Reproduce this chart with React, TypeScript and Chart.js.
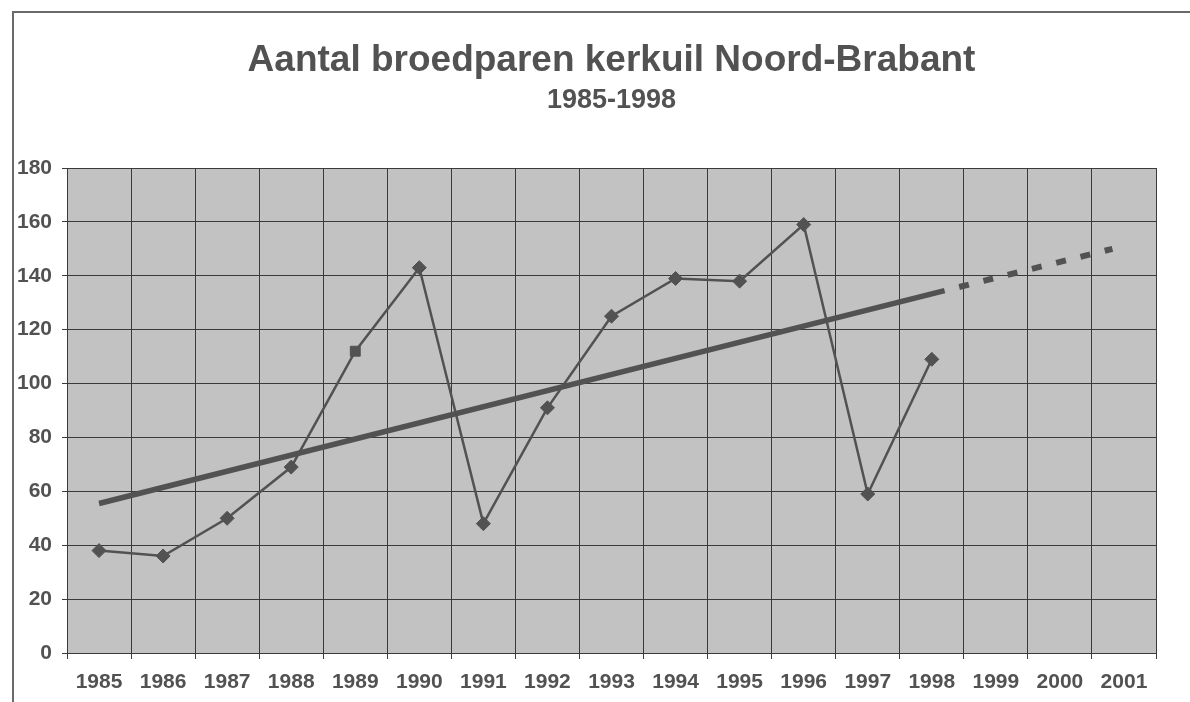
import { useEffect, useRef } from 'react';
import { Chart, registerables } from 'chart.js';

Chart.register(...registerables);

const years = ['1985', '1986', '1987', '1988', '1989', '1990', '1991', '1992', '1993', '1994', '1995', '1996', '1997', '1998', '1999', '2000', '2001'];
const broedparen = [38, 36, 50, 69, 112, 143, 48, 91, 125, 139, 138, 159, 59, 109, null, null, null];
const pointStyles = ['rectRot', 'rectRot', 'rectRot', 'rectRot', 'rect', 'rectRot', 'rectRot', 'rectRot', 'rectRot', 'rectRot', 'rectRot', 'rectRot', 'rectRot', 'rectRot'];
const trendYears = [1985, 1998.2];
const trendValues = [55.5, 134.5];
const prognoseYears = [1998.2, 2000.82];
const prognoseValues = [134.5, 150];

const titleText = 'Aantal broedparen kerkuil Noord-Brabant';
const subtitleText = '1985-1998';

const INK = '#525252';
const FONT = '"Liberation Sans", Arial, sans-serif';

const backgroundPlugin = {
  id: 'plotBackground',
  beforeDraw(chart: any) {
    const { ctx, chartArea } = chart;
    ctx.save();
    ctx.fillStyle = '#c2c2c2';
    ctx.fillRect(chartArea.left, chartArea.top, chartArea.right - chartArea.left, chartArea.bottom - chartArea.top);
    ctx.strokeStyle = '#6a6a6a';
    ctx.lineWidth = 2;
    ctx.beginPath();
    ctx.moveTo(13, chart.height);
    ctx.lineTo(13, 12);
    ctx.lineTo(chart.width, 12);
    ctx.stroke();
    ctx.restore();
  },
};

export default function App() {
  const canvasRef = useRef<HTMLCanvasElement | null>(null);

  useEffect(() => {
    if (!canvasRef.current) return;
    const chart = new Chart(canvasRef.current, {
      type: 'line',
      data: {
        labels: years,
        datasets: [
          {
            label: 'Broedparen',
            data: broedparen,
            xAxisID: 'x',
            borderColor: INK,
            backgroundColor: INK,
            borderWidth: 2.5,
            pointStyle: pointStyles as any,
            pointRadius: 7,
            pointBackgroundColor: INK,
            pointBorderColor: INK,
            pointBorderWidth: 1,
            tension: 0,
            spanGaps: false,
          },
          {
            label: 'Trend',
            data: trendYears.map((x, i) => ({ x, y: trendValues[i] })),
            xAxisID: 'xt',
            borderColor: INK,
            borderWidth: 5.5,
            pointRadius: 0,
            borderCapStyle: 'butt',
          },
          {
            label: 'Prognose',
            data: prognoseYears.map((x, i) => ({ x, y: prognoseValues[i] })),
            xAxisID: 'xt',
            borderColor: INK,
            borderWidth: 6,
            borderDash: [10, 15],
            borderDashOffset: 10,
            pointRadius: 0,
            borderCapStyle: 'butt',
          },
        ] as any,
      },
      options: {
        animation: false,
        responsive: false,
        layout: { padding: { left: 0, right: 34, top: 0, bottom: 0 } },
        plugins: {
          legend: { display: false },
          tooltip: { enabled: false },
          title: {
            display: true,
            text: titleText,
            fullSize: false,
            color: INK,
            font: { family: FONT, size: 37, weight: 'bold', lineHeight: 1.2 },
            padding: { top: 38.8, bottom: 1.6 },
          },
          subtitle: {
            display: true,
            text: subtitleText,
            fullSize: false,
            color: INK,
            font: { family: FONT, size: 27, weight: 'bold', lineHeight: 1.2 },
            padding: { top: 0, bottom: 50.8 },
          },
        },
        scales: {
          x: {
            type: 'category',
            offset: true,
            grid: {
              offset: true,
              color: '#3a3a3a',
              lineWidth: 1,
              tickLength: 6,
              tickColor: '#3a3a3a',
            },
            border: { color: '#3a3a3a', width: 1 },
            ticks: {
              color: INK,
              font: { family: FONT, size: 21, weight: 'bold', lineHeight: 1.2 },
              padding: 11,
              maxRotation: 0,
              autoSkip: false,
            },
            afterFit(scale: any) {
              scale.height = 49;
            },
          },
          xt: {
            type: 'linear',
            display: false,
            min: 1984.5,
            max: 2001.5,
          },
          y: {
            min: 0,
            max: 180,
            grid: {
              color: '#3a3a3a',
              lineWidth: 1,
              tickLength: 5,
              tickColor: '#3a3a3a',
            },
            border: { color: '#3a3a3a', width: 1 },
            ticks: {
              stepSize: 20,
              color: INK,
              font: { family: FONT, size: 21, weight: 'bold' },
              padding: 10,
            },
            afterFit(scale: any) {
              scale.width = 67;
            },
          },
        },
      } as any,
      plugins: [backgroundPlugin],
    });
    return () => chart.destroy();
  }, []);

  return (
    <div style={{ position: 'absolute', left: 0, top: 0, width: 1190, height: 702, background: '#fff' }}>
      <canvas ref={canvasRef} width={1190} height={702} style={{ display: 'block' }} />
    </div>
  );
}
